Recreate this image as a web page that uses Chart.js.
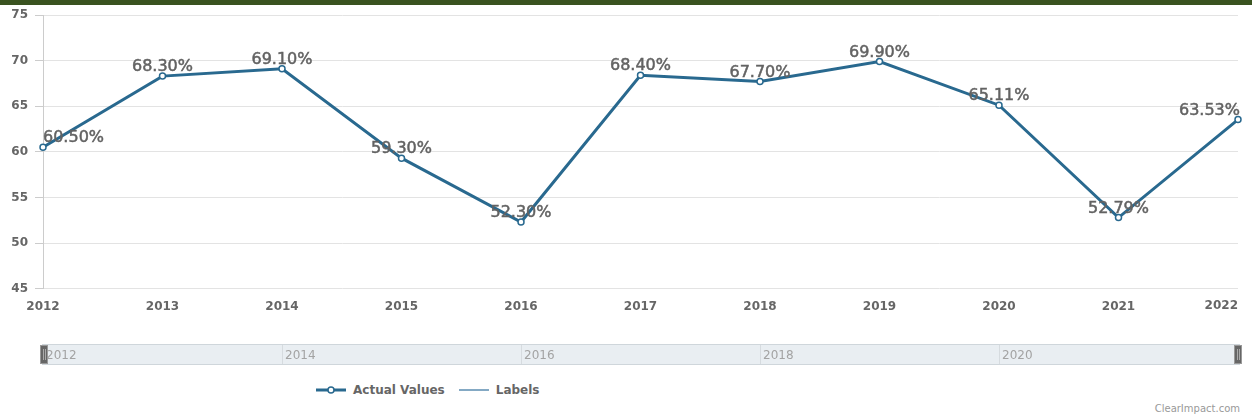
<!DOCTYPE html>
<html>
<head>
<meta charset="utf-8">
<script src="https://cdn.jsdelivr.net/npm/chart.js@4.4.0/dist/chart.umd.min.js"></script>
<style>
  body { margin: 0; background: #fff; width: 1252px; height: 419px; overflow: hidden; position: relative; font-family: "DejaVu Sans", sans-serif; }
  #topbar { position: absolute; left: 0; top: 0; width: 1252px; height: 5px; background: #3a5320; }
  #main { position: absolute; left: 0; top: 0; width: 1252px; height: 317px; }
  #nav { position: absolute; left: 0; top: 340px; width: 1252px; height: 30px; }
  #legend { position: absolute; top: 383px; left: 316px; font: bold 12px "DejaVu Sans", sans-serif; color: #666; display: flex; align-items: center; }
  #legend span { display: inline-flex; align-items: center; margin-right: 14px; }
  #legend svg { margin-right: 7px; }
  #credit { position: absolute; right: 12px; top: 403px; font: 10px "DejaVu Sans", sans-serif; color: #999; }
</style>
</head>
<body>
<div id="main"><canvas id="chart"></canvas></div>
<div id="topbar"></div>
<div id="nav"><canvas id="navchart"></canvas></div>
<div id="legend">
  <span><svg width="30" height="10"><line x1="0" y1="5" x2="30" y2="5" stroke="#29698f" stroke-width="3"/><circle cx="15" cy="5" r="3" fill="#fff" stroke="#29698f" stroke-width="1.5"/></svg>Actual Values</span>
  <span><svg width="30" height="10"><line x1="0" y1="5" x2="30" y2="5" stroke="#5b8db0" stroke-width="1.5"/></svg>Labels</span>
</div>
<div id="credit">ClearImpact.com</div>
<script>
const years = ['2012', '2013', '2014', '2015', '2016', '2017', '2018', '2019', '2020', '2021', '2022'];
const actualValues = [60.50, 68.30, 69.10, 59.30, 52.30, 68.40, 67.70, 69.90, 65.11, 52.79, 63.53];
const yTicks = [45, 50, 55, 60, 65, 70, 75];
const navYears = [2012, 2014, 2016, 2018, 2020];

const lineColor = '#29698f';
const tickFont = { family: 'DejaVu Sans', size: 12, weight: 'bold' };

const valueLabels = {
  id: 'valueLabels',
  afterDatasetsDraw(chart) {
    const ctx = chart.ctx;
    const meta = chart.getDatasetMeta(0);
    ctx.save();
    ctx.font = '16px "DejaVu Sans", sans-serif';
    ctx.fillStyle = '#636363';
    ctx.strokeStyle = '#636363';
    ctx.lineWidth = 0.5;
    ctx.textBaseline = 'middle';
    meta.data.forEach((pt, i) => {
      const txt = actualValues[i].toFixed(2) + '%';
      const w = ctx.measureText(txt).width;
      let x = pt.x - w / 2;
      x = Math.max(chart.chartArea.left, Math.min(x, chart.width - 12 - w));
      ctx.fillText(txt, x, pt.y - 9);
      ctx.strokeText(txt, x, pt.y - 9);
    });
    ctx.restore();
  },
  afterDraw(chart) {
    // last category label sits flush with the right edge of the plot
    const xs = chart.scales.x;
    const last = years.length - 1;
    const ctx = chart.ctx;
    ctx.save();
    ctx.font = 'bold 12px "DejaVu Sans", sans-serif';
    ctx.fillStyle = '#666';
    ctx.textAlign = 'right';
    ctx.textBaseline = 'middle';
    ctx.fillText(years[last], xs.getPixelForTick(last), chart.chartArea.bottom + 17);
    ctx.restore();
  }
};

new Chart(document.getElementById('chart'), {
  type: 'line',
  data: {
    labels: years,
    datasets: [{
      label: 'Actual Values',
      data: actualValues,
      borderColor: lineColor,
      borderWidth: 3,
      pointRadius: 3,
      pointBackgroundColor: '#fff',
      pointBorderColor: lineColor,
      pointBorderWidth: 1.5,
      tension: 0
    }]
  },
  options: {
    responsive: true,
    maintainAspectRatio: false,
    animation: false,
    layout: { padding: { top: 15, right: 14, left: 0, bottom: 0 } },
    plugins: { legend: { display: false }, tooltip: { enabled: false } },
    scales: {
      x: {
        offset: false,
        grid: { display: false },
        border: { display: false },
        ticks: {
          color: '#666', font: tickFont, padding: 3, maxRotation: 0, autoSkip: false,
          callback: (v, i) => (i === years.length - 1 ? '' : years[i])
        },
        afterFit(s) { s.paddingLeft = 0; s.paddingRight = 0; }
      },
      y: {
        min: 45, max: 75,
        afterBuildTicks(s) { s.ticks = yTicks.map(v => ({ value: v })); },
        grid: { color: '#e3e3e3', tickLength: 8, tickColor: '#ccc' },
        border: { display: true, color: '#ccc' },
        ticks: { color: '#666', font: tickFont, padding: 7 },
        afterFit(s) { s.width = 43; }
      }
    }
  },
  plugins: [valueLabels]
});

const navDecor = {
  id: 'navDecor',
  beforeDraw(chart) {
    const { ctx, chartArea: a } = chart;
    ctx.save();
    ctx.fillStyle = '#e9eef2';
    ctx.fillRect(a.left - 1, a.top, a.right - a.left + 3, a.bottom - a.top);
    ctx.restore();
  },
  afterDraw(chart) {
    const { ctx, chartArea: a } = chart;
    const xs = chart.scales.x;
    ctx.save();
    ctx.strokeStyle = '#cfd6db';
    ctx.lineWidth = 1;
    ctx.strokeRect(a.left - 0.5, a.top + 0.5, a.right - a.left + 2, a.bottom - a.top - 1);
    ctx.font = '12px "DejaVu Sans", sans-serif';
    ctx.fillStyle = '#a3a3a3';
    ctx.textBaseline = 'middle';
    navYears.forEach(y => {
      const x = xs.getPixelForValue(y);
      if (y !== navYears[0]) {
        ctx.strokeStyle = '#d6dbdf';
        ctx.beginPath(); ctx.moveTo(Math.round(x) + 0.5, a.top + 1); ctx.lineTo(Math.round(x) + 0.5, a.bottom - 1); ctx.stroke();
      }
      ctx.fillText(String(y), x + 3, (a.top + a.bottom) / 2 + 1);
    });
    // scroll handles
    [a.left - 3, a.right - 4].forEach(hx => {
      ctx.fillStyle = '#666';
      ctx.fillRect(hx, a.top + 1, 8, a.bottom - a.top - 2);
      ctx.strokeStyle = '#999';
      ctx.strokeRect(hx + 0.5, a.top + 1.5, 7, a.bottom - a.top - 3);
      ctx.fillStyle = '#aaa';
      ctx.fillRect(hx + 3, a.top + 5, 1, a.bottom - a.top - 10);
      ctx.fillRect(hx + 5, a.top + 5, 1, a.bottom - a.top - 10);
    });
    ctx.restore();
  }
};

new Chart(document.getElementById('navchart'), {
  type: 'line',
  data: { datasets: [{ data: [], borderWidth: 0, pointRadius: 0 }] },
  options: {
    responsive: true,
    maintainAspectRatio: false,
    animation: false,
    layout: { padding: { top: 4, bottom: 5, left: 43, right: 14 } },
    plugins: { legend: { display: false }, tooltip: { enabled: false } },
    scales: {
      x: { type: 'linear', min: 2012, max: 2022, display: false },
      y: { display: false, min: 0, max: 1 }
    }
  },
  plugins: [navDecor]
});
</script>
</body>
</html>
